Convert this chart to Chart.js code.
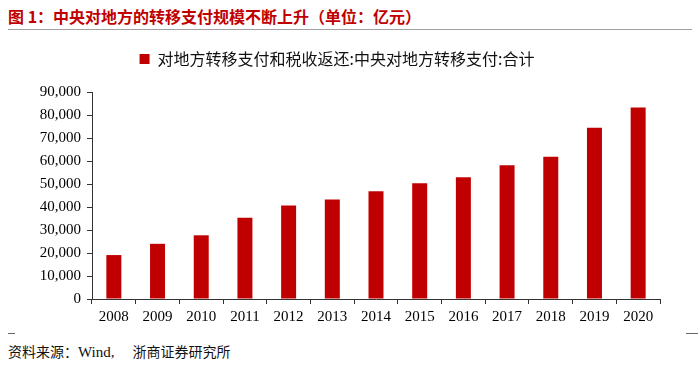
<!DOCTYPE html>
<html>
<head>
<meta charset="utf-8">
<script src="https://cdn.jsdelivr.net/npm/chart.js@4"></script>
<style>
  body { margin: 0; width: 700px; height: 373px; background: #fff; position: relative; overflow: hidden; }
  #title { position: absolute; left: 8px; top: 4px; font: bold 16px "Noto Sans CJK SC", sans-serif; color: #c00000; white-space: nowrap; }
  #rule { position: absolute; left: 8px; right: 8px; top: 29px; height: 1px; background: #a0a0a0; }
  #wrap { position: absolute; left: 0; top: 32px; width: 700px; height: 298px; }
  .dash { position: absolute; top: 333px; height: 1px; background: #666; }
  #source { position: absolute; left: 8px; top: 341px; font: 14px "Noto Sans CJK SC", serif; color: #111; white-space: nowrap; }
  #source .w { font-family: "Liberation Serif", serif; font-size: 15px; }
  #source .gap { display: inline-block; width: 18px; }
</style>
</head>
<body>
<div id="title">图 1：中央对地方的转移支付规模不断上升（单位：亿元）</div>
<div id="rule"></div>
<div id="wrap"><canvas id="chart"></canvas></div>
<div class="dash" style="left:8px;width:7px"></div>
<div class="dash" style="left:686px;width:12px"></div>
<div id="source">资料来源：<span class="w">Wind,</span><span class="gap"></span>浙商证券研究所</div>
<script>
// Données du graphique (亿元)
const years = ['2008', '2009', '2010', '2011', '2012', '2013', '2014', '2015', '2016', '2017', '2018', '2019', '2020'];
const transferTotals = [19100, 24000, 27700, 35300, 40600, 43300, 46800, 50300, 52900, 58100, 61900, 74500, 83300];
const seriesLabel = '对地方转移支付和税收返还:中央对地方转移支付:合计';

const ctx = document.getElementById('chart').getContext('2d');
const serif = '"Liberation Serif", "Times New Roman", serif';

// Espace supplémentaire sous la légende
const legendGap = {
    id: 'legendGap',
    beforeInit(chart) {
        const fit = chart.legend.fit;
        chart.legend.fit = function () {
            fit.bind(chart.legend)();
            this.height += 15;
        };
    },
};

new Chart(ctx, {
    type: 'bar',
    data: {
        labels: years,
        datasets: [{
            label: seriesLabel,
            data: transferTotals,
            backgroundColor: '#c00000',
            borderWidth: 0,
            barPercentage: 0.343,
            categoryPercentage: 1,
        }],
    },
    options: {
        responsive: true,
        maintainAspectRatio: false,
        animation: false,
        layout: { padding: { left: 14, right: 40, top: 14, bottom: 0 } },
        plugins: {
            legend: {
                labels: {
                    boxWidth: 10,
                    boxHeight: 10,
                    padding: 5,
                    color: '#111',
                    font: { family: '"Noto Sans CJK SC", sans-serif', size: 16 },
                },
            },
            tooltip: { enabled: false },
        },
        scales: {
            x: {
                offset: true,
                grid: { offset: true, drawOnChartArea: false, tickLength: 5, color: '#333' },
                border: { color: '#333', width: 1 },
                ticks: { color: '#000', font: { family: serif, size: 15 }, padding: 4, maxRotation: 0 },
            },
            y: {
                min: 0,
                max: 90000,
                afterFit: (scale) => { scale.width = 78; },
                grid: { drawOnChartArea: false, tickLength: 5, color: '#333' },
                border: { color: '#333', width: 1 },
                ticks: {
                    stepSize: 10000,
                    color: '#000',
                    padding: 6,
                    font: { family: serif, size: 15 },
                    callback: (v) => v.toLocaleString('en-US'),
                },
            },
        },
    },
    plugins: [legendGap],
});
</script>
</body>
</html>
